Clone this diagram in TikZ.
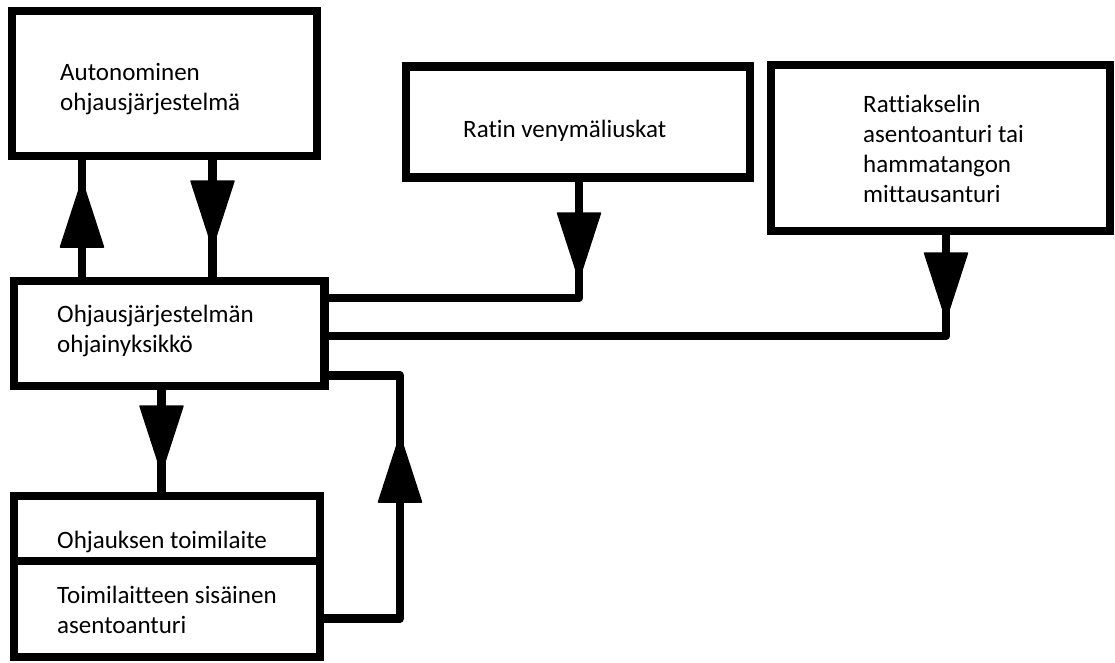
\documentclass[tikz,border=0pt]{standalone}
\usepackage{fontspec}
\setmainfont{Carlito}[Ligatures=NoCommon]
\usetikzlibrary{decorations.markings}
\begin{document}
\begin{tikzpicture}[x=1pt,y=-1pt,
  box/.style={draw=black, line width=8.5pt, rectangle, inner sep=0pt, fill=white},
  txt/.style={anchor=base west, inner sep=0pt, align=left, font=\fontsize{25}{30}\selectfont, text=black},
  conn/.style={draw=black, line width=8.5pt, line join=round},
  headat/.style={postaction={decorate}, decoration={markings,
    mark=at position #1 with {\fill[draw=black, line width=1.5pt, line join=round]
      (-0.75pt,0pt) -- (-67pt,21.5pt) -- (-67pt,-21.5pt) -- cycle;}}}
]
\useasboundingbox (0,0) rectangle (1115,662);
\fill[white] (0,0) rectangle (1115,662);

\node[box, minimum width=305pt, minimum height=145pt] (b1) at (164.5,83.5) {};
\node[box, minimum width=310.5pt, minimum height=105pt] (b2) at (169.25,333.5) {};
\node[box, minimum width=306pt, minimum height=65pt] (b3a) at (167,528.5) {};
\node[box, minimum width=306pt, minimum height=96pt] (b3b) at (167,609) {};
\node[box, minimum width=344pt, minimum height=111pt] (b4) at (578,122) {};
\node[box, minimum width=339pt, minimum height=166pt] (b5) at (940.5,148) {};

\node[txt] (t1) at (60,110) {Autonominen\\ohjausjärjestelmä};
\node[txt] (t2) at (57,352) {Ohjausjärjestelmän\\ohjainyksikkö};
\node[txt] (t3) at (57,548) {Ohjauksen toimilaite};
\node[txt] (t4) at (57,633) {Toimilaitteen sisäinen\\asentoanturi};
\node[txt] (t5) at (463,137) {Ratin venymäliuskat};
\node[txt] (t6) at (863,202) {Rattiakselin\\asentoanturi tai\\hammatangon\\mittausanturi};

\coordinate (xa) at (82,0);
\coordinate (xb) at (212.5,0);
\coordinate (xc) at (161.5,0);
\coordinate (xd) at (400,0);
\coordinate (xr) at (579,0);
\coordinate (xs) at (946,0);
\coordinate (ya) at (0,298);
\coordinate (yb) at (0,336);
\coordinate (yc) at (0,375.5);
\coordinate (yd) at (0,618.5);

\draw[conn, headat=96.75pt] (b2.north -| xa) -- (b1.south -| xa);
\draw[conn, headat=87.75pt] (b1.south -| xb) -- (b2.north -| xb);
\draw[conn, headat=98.25pt] (b4.south -| xr) |- (b2.east |- ya);
\draw[conn, headat=84.75pt] (b5.south -| xs) |- (b2.east |- yb);
\draw[conn, headat=82.75pt] (b2.south -| xc) -- (b3a.north -| xc);
\draw[conn, headat=259.25pt] (b3b.east |- yd) -| (xd |- yc) -- (b2.east |- yc);
\end{tikzpicture}
\end{document}
